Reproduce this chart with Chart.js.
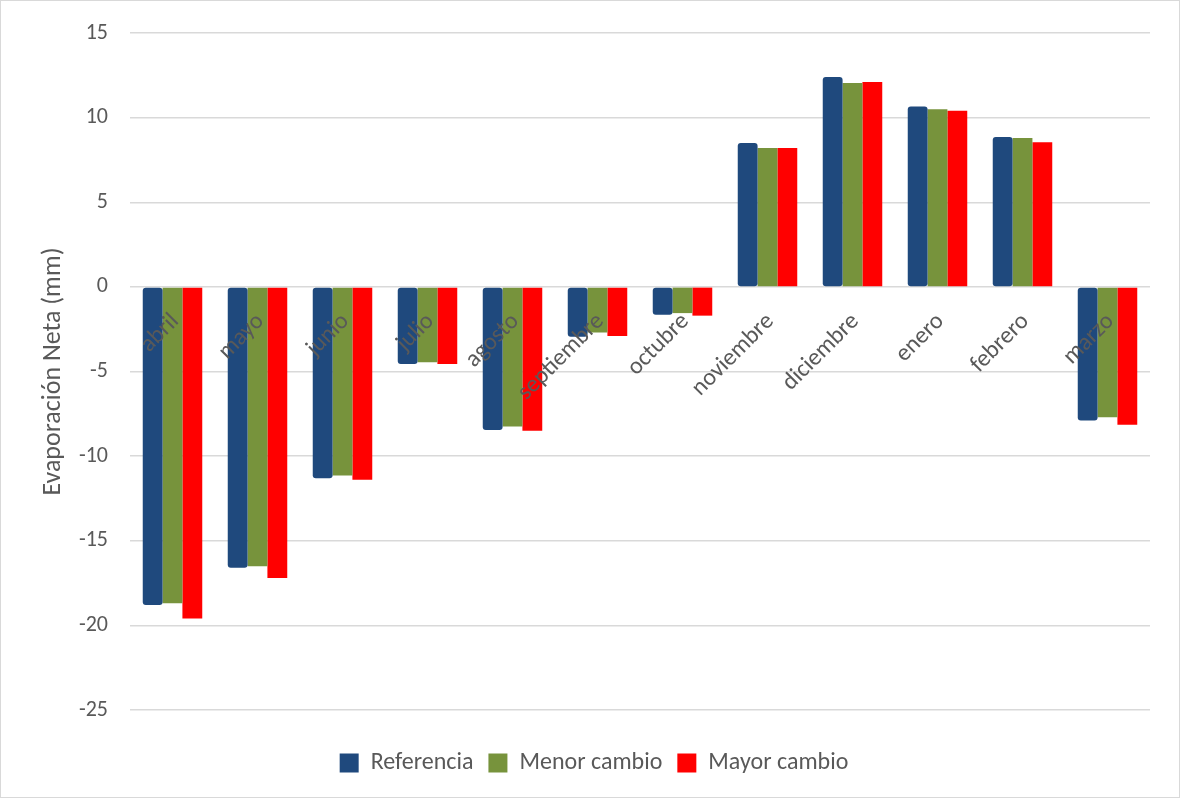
<!DOCTYPE html>
<html>
<head>
<meta charset="utf-8">
<script src="https://cdn.jsdelivr.net/npm/chart.js@4/dist/chart.umd.min.js"></script>
<style>
  html, body { margin: 0; padding: 0; background: #fff; }
  #wrap { width: 1180px; height: 798px; box-sizing: border-box; border: 1px solid #d9d9d9; }
</style>
</head>
<body>
<div id="wrap"><canvas id="evapChart" width="1178" height="796"></canvas></div>
<script>
const meses = ["abril", "mayo", "junio", "julio", "agosto", "septiembre", "octubre",
  "noviembre", "diciembre", "enero", "febrero", "marzo"];
const referencia = [-18.8, -16.6, -11.3, -4.55, -8.45, -2.95, -1.65, 8.5, 12.4, 10.65, 8.85, -7.9];
const menorCambio = [-18.7, -16.5, -11.15, -4.45, -8.25, -2.7, -1.55, 8.2, 12.05, 10.5, 8.8, -7.7];
const mayorCambio = [-19.6, -17.2, -11.4, -4.55, -8.5, -2.9, -1.7, 8.2, 12.1, 10.4, 8.55, -8.15];
const yTicks = [-25, -20, -15, -10, -5, 0, 5, 10, 15];

const fontFam = "Carlito, 'Open Sans', 'Liberation Sans', sans-serif";
const gris = "#595959";

// month labels drawn at the zero line, like the original
const zeroLabels = {
  id: "zeroLabels",
  afterDatasetsDraw(chart) {
    const ctx = chart.ctx;
    const x = chart.scales.x, y = chart.scales.y;
    const y0 = y.getPixelForValue(0);
    ctx.save();
    ctx.font = "24px " + fontFam;
    ctx.fillStyle = gris;
    ctx.textAlign = "right";
    ctx.textBaseline = "middle";
    meses.forEach((m, i) => {
      ctx.save();
      ctx.translate(x.getPixelForValue(i) + 3, y0 + 31);
      ctx.rotate(-Math.PI / 4);
      ctx.fillText(m, 0, 0);
      ctx.restore();
    });
    ctx.restore();
  }
};

new Chart(document.getElementById("evapChart"), {
  type: "bar",
  data: {
    labels: meses,
    datasets: [{
      label: "Referencia",
      data: referencia,
      backgroundColor: "#1f497d",
      borderRadius: 3,
      borderSkipped: false
    }, {
      label: "Menor cambio",
      data: menorCambio,
      backgroundColor: "#77933c"
    }, {
      label: "Mayor cambio",
      data: mayorCambio,
      backgroundColor: "#ff0000"
    }]
  },
  options: {
    responsive: false,
    animation: false,
    datasets: { bar: { categoryPercentage: 0.7, barPercentage: 1.0 } },
    layout: { padding: { top: 32, right: 29, bottom: 12, left: 37 } },
    plugins: {
      legend: {
        position: "bottom",
        labels: {
          color: gris,
          font: { size: 24, family: fontFam },
          boxWidth: 19,
          boxHeight: 19,
          padding: 15
        }
      },
      tooltip: { enabled: false }
    },
    scales: {
      x: {
        ticks: { display: false },
        grid: { display: false },
        border: { display: false },
        afterFit(s) { s.height = 26; }
      },
      y: {
        min: -25,
        max: 15,
        afterBuildTicks(s) { s.ticks = yTicks.map(v => ({ value: v })); },
        ticks: { color: gris, font: { size: 22, family: fontFam }, padding: 22 },
        grid: { color: "#d9d9d9", lineWidth: 1.5, drawTicks: false },
        border: { display: false },
        title: {
          display: true,
          text: "Evaporación Neta (mm)",
          color: gris,
          font: { size: 26, family: fontFam },
          padding: { top: 0, bottom: 0 }
        },
        afterFit(s) {
          s.width = 92;
          s.paddingTop = 0;
          s.paddingBottom = 0;
        }
      }
    }
  },
  plugins: [zeroLabels]
});
</script>
</body>
</html>
